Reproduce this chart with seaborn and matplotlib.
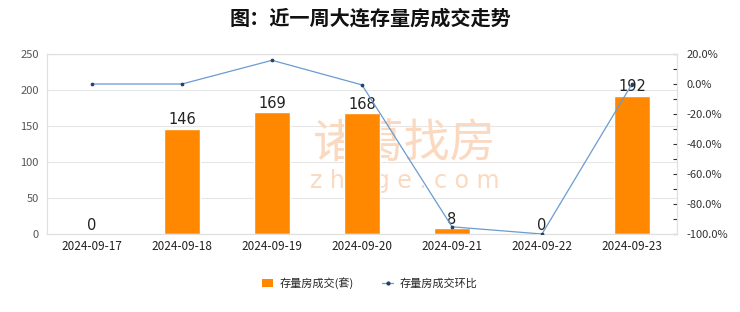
import numpy as np
import pandas as pd
import matplotlib
matplotlib.use("Agg")
import matplotlib.pyplot as plt
import seaborn as sns
from matplotlib.ticker import FuncFormatter, MultipleLocator
from matplotlib.lines import Line2D
from matplotlib.patches import Patch

dates = ["2024-09-17", "2024-09-18", "2024-09-19", "2024-09-20",
         "2024-09-21", "2024-09-22", "2024-09-23"]
volume = [0, 146, 169, 168, 8, 0, 192]
mom_pct = [0.0, 0.0, 15.8, -0.6, -95.2, -100.0, 0.0]
bar_label = "存量房成交(套)"
line_label = "存量房成交环比"
title = "图：近一周大连存量房成交走势"

sns.set_theme(style="white")
plt.rcParams['font.family'] = ['Noto Sans CJK SC', 'DejaVu Sans']
plt.rcParams['axes.unicode_minus'] = False

df = pd.DataFrame({"date": dates, "volume": volume, "mom": mom_pct})

fig = plt.figure(figsize=(7.4, 3.12), dpi=100)
ax = fig.add_axes([47/740, 1 - 234/312, 630/740, 180/312])

# watermark (behind bars)
ax.text(3.47, 126, "诸葛找房", fontsize=33, color="#FAD9C0",
        ha="center", va="center", zorder=1)
ax.text(3.47, 74, "z h u g e . c o m", fontsize=17, color="#FAD9C0",
        ha="center", va="center", zorder=1, family="DejaVu Sans")

sns.barplot(data=df, x="date", y="volume", color="#FF8800", saturation=1,
            width=0.4, ax=ax, zorder=2)
ax.set_ylim(0, 250)
ax.set_yticks([0, 50, 100, 150, 200, 250])
ax.grid(axis="y", color="#e6e6e6", linewidth=0.8, zorder=0)
ax.set_axisbelow(True)
ax.set_xlabel("")
ax.set_ylabel("")
for s in ax.spines.values():
    s.set_color("#e0e0e0")
    s.set_linewidth(0.8)
ax.tick_params(axis="y", length=0, labelsize=8, labelcolor="#555555", pad=6)
ax.tick_params(axis="x", length=0, labelsize=8.5, labelcolor="#222222", pad=4)

for c in ax.containers:
    ax.bar_label(c, labels=[str(v) for v in volume], fontsize=10.5,
                 color="#222222", padding=1, family="DejaVu Sans")

ax2 = ax.twinx()
sns.pointplot(data=df, x="date", y="mom", ax=ax2, color="#6A9BD0",
              markers="o", markersize=2, linewidth=0.9, zorder=3)
for ln in ax2.lines:
    ln.set_markeredgecolor("#1F3F66")
    ln.set_markerfacecolor("#1F3F66")
ax2.set_xlim(-0.5, 6.5)
ax.set_xlim(-0.5, 6.5)
ax2.set_ylim(-100, 20)
ax2.set_yticks(np.arange(-100, 21, 20))
ax2.yaxis.set_minor_locator(MultipleLocator(10))
ax2.yaxis.set_major_formatter(FuncFormatter(lambda v, p: f"{v:.1f}%"))
ax2.tick_params(axis="y", which="major", length=3, width=0.8, color="#333333",
                labelsize=8, labelcolor="#333333", direction="in", pad=7)
ax2.tick_params(axis="y", which="minor", length=3, width=0.8, color="#333333",
                direction="in")
ax2.set_ylabel("")
ax2.set_xlabel("")
ax2.grid(False)
for s in ax2.spines.values():
    s.set_color("#e0e0e0")
    s.set_linewidth(0.8)

fig.suptitle(title, fontsize=14.5, fontweight="bold", y=0.975, color="#111111")

handles = [Patch(facecolor="#FF8800", edgecolor="none"),
           Line2D([0], [0], color="#6A9BD0", marker="o", markersize=2,
                  markeredgecolor="#1F3F66", markerfacecolor="#1F3F66",
                  linewidth=0.9)]
fig.legend(handles, [bar_label, line_label], loc="center",
           bbox_to_anchor=(0.5, 1 - 283/312), ncol=2, frameon=False,
           fontsize=8, handlelength=1.0, handleheight=0.7, columnspacing=2.5,
           handletextpad=0.6)

fig.savefig("out.png", dpi=100, facecolor="white")
